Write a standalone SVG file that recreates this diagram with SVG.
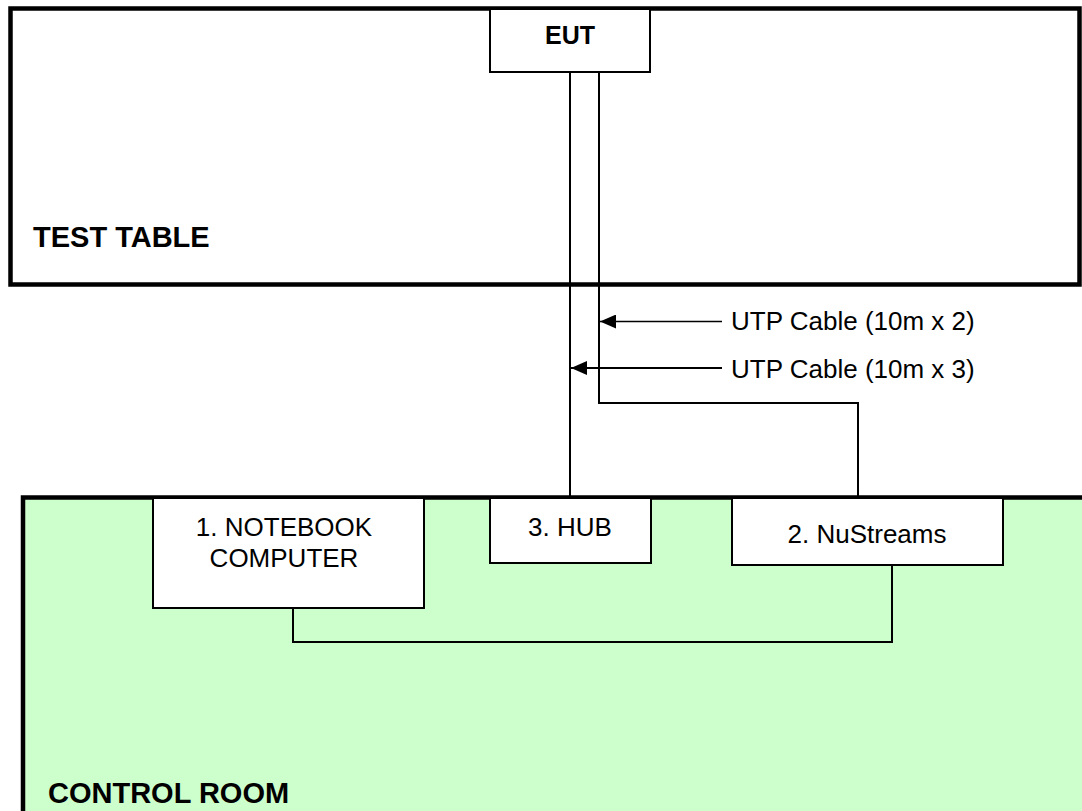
<svg xmlns="http://www.w3.org/2000/svg" width="1082" height="811" viewBox="0 0 1082 811">
<style>
.area{stroke:#000;stroke-width:4.5}
.box{fill:#fff;stroke:#000;stroke-width:2}
.wire{fill:none;stroke:#000;stroke-width:2}
.t{font-family:"Liberation Sans",Arial,sans-serif;font-size:26px;fill:#000}
.b{font-family:"Liberation Sans",Arial,sans-serif;font-weight:bold;fill:#000}
</style>
<defs>
<marker id="ah" viewBox="0 0 16 14" refX="16" refY="7" markerWidth="16" markerHeight="14" markerUnits="userSpaceOnUse" orient="auto">
<path d="M16,7 L0,0 L0,14 Z" fill="#000"/>
</marker>
</defs>
<rect width="1082" height="811" fill="#fff"/>
<g id="test-table">
<rect class="area" x="10.5" y="8.5" width="1069" height="276" fill="#fff"/>
<text class="b" x="33" y="247" font-size="29">TEST TABLE</text>
</g>
<g id="control-room">
<rect class="area" x="23" y="497.5" width="1080" height="330" fill="#ccffcc"/>
<text class="b" x="48" y="803" font-size="29">CONTROL ROOM</text>
</g>
<g id="eut">
<rect class="box" x="490" y="9" width="160" height="63"/>
<text class="b" x="570" y="44" font-size="25" text-anchor="middle">EUT</text>
</g>
<g id="notebook">
<rect class="box" x="153" y="498" width="271" height="110"/>
<text class="t" x="284" y="536" text-anchor="middle">1. NOTEBOOK</text>
<text class="t" x="284" y="567" text-anchor="middle">COMPUTER</text>
</g>
<g id="hub">
<rect class="box" x="490" y="498" width="161" height="65"/>
<text class="t" x="570" y="536" text-anchor="middle">3. HUB</text>
</g>
<g id="nustreams">
<rect class="box" x="732" y="498" width="271" height="67"/>
<text class="t" x="867" y="543" text-anchor="middle">2. NuStreams</text>
</g>
<g id="connectors">
<path class="wire" d="M570,72 V498"/>
<path class="wire" d="M599,72 V403 H858 V498"/>
<path class="wire" d="M293,608 V642 H892 V565"/>
<path d="M722,321.5 H600" stroke="#000" stroke-width="1.3" marker-end="url(#ah)"/>
<path d="M722,368 H571" stroke="#000" stroke-width="2" marker-end="url(#ah)"/>
</g>
<g id="labels">
<text class="t" x="731" y="330">UTP Cable (10m x 2)</text>
<text class="t" x="731" y="378">UTP Cable (10m x 3)</text>
</g>
</svg>
